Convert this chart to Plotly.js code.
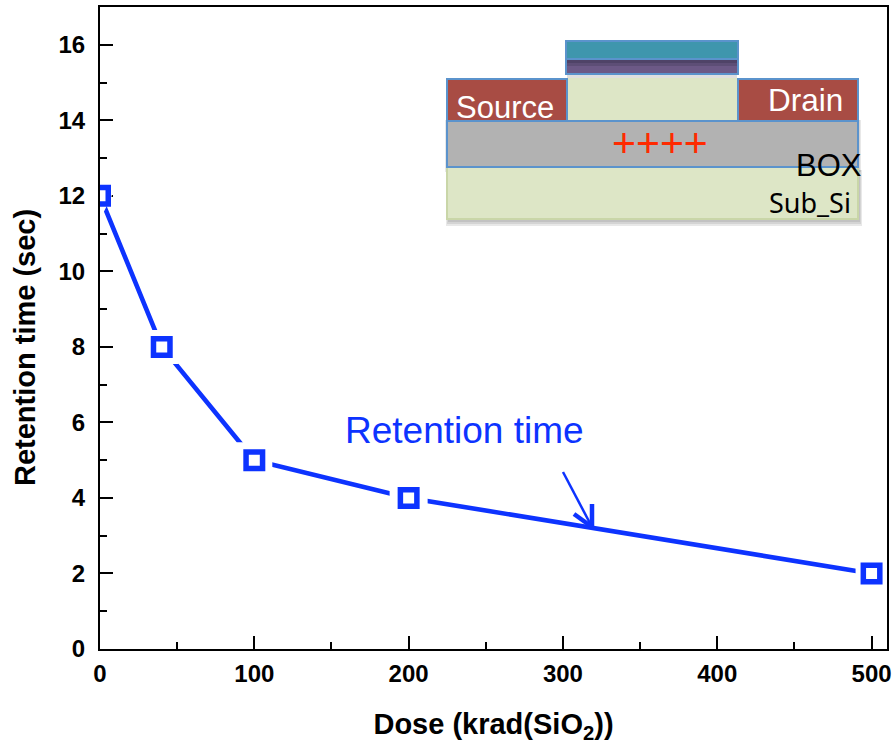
<!DOCTYPE html>
<html><head><meta charset="utf-8">
<script src="https://cdn.plot.ly/plotly-3.0.1.min.js"></script>
<style>html,body{margin:0;padding:0;background:#fff}#c{width:893px;height:744px}</style>
</head><body><div id="c"></div>
<script>
// Chart data
const doseValues = [0, 40, 100, 200, 500];
const retentionValues = [12, 8, 5, 4, 2];
const xTicks = [0, 100, 200, 300, 400, 500];
const yTicks = [0, 2, 4, 6, 8, 10, 12, 14, 16];
const seriesBlue = '#0d33ff';

// Plot frame in page pixels
const W = 893, H = 744;
const L = 100, R = 887, T = 7, B = 649;
const px = v => (v - L) / (R - L);
const py = v => (B - v) / (B - T);

function box(x0, y0, x1, y1, fill, stroke, sw) {
  return {type: 'rect', xref: 'paper', yref: 'paper', x0: px(x0), x1: px(x1), y0: py(y0), y1: py(y1),
    fillcolor: fill, line: {color: stroke || 'rgba(0,0,0,0)', width: sw === undefined ? 2 : sw}, layer: 'above'};
}
function seg(x0, y0, x1, y1, color, w) {
  return {type: 'line', xref: 'paper', yref: 'paper', x0: px(x0), x1: px(x1), y0: py(y0), y1: py(y1),
    line: {color: color, width: w}, layer: 'above'};
}
function label(text, x, y, size, color, family, extra) {
  return Object.assign({text: text, xref: 'paper', yref: 'paper', x: px(x), y: py(y), showarrow: false,
    xanchor: 'center', yanchor: 'middle', font: {size: size, color: color, family: family || 'Liberation Sans'}}, extra || {});
}

const edge = '#5b93cc';
const shadow = 'rgba(80,80,80,0.13)';
const shapes = [
  // soft drop shadows
  box(446, 170, 862, 226, shadow, null, 0),
  box(447, 170, 861, 224, shadow, null, 0),
  box(448, 170, 860, 222, shadow, null, 0),
  box(445, 120, 861, 172, shadow, null, 0),
  box(446, 120, 860, 170, shadow, null, 0),
  box(567, 75, 737, 79, 'rgba(80,80,80,0.18)', null, 0),
  // inset device layers
  box(447, 167, 858, 219, '#dde6c6', '#c9d6a8', 2),
  box(567, 78, 737, 121, '#dde6c6', null, 0),
  box(447, 121, 858, 167, '#b2b2b2', edge, 2),
  box(447, 79, 567, 121, '#a84c44', edge, 2),
  box(738, 79, 858, 121, '#a84c44', edge, 2),
  box(566, 59, 738, 74, '#6c5986', edge, 2),
  box(567, 60, 737, 63, '#4f4367', null, 0),
  box(567, 63, 737, 66, '#5d4e76', null, 0),
  box(566, 41, 738, 59, '#3f96ad', edge, 2),
  // arrow pointing at the curve
  seg(563, 472, 592, 527, seriesBlue, 2.5),
  seg(592, 504, 592, 527, seriesBlue, 4.5),
  seg(574, 514, 592, 527, seriesBlue, 4.5)
];

const titleFontFamily = 'Liberation Sans';
const annotations = [
  label('Source', 505, 107, 31, '#ffffff'),
  label('Drain', 805, 100, 31.5, '#ffffff'),
  label('++++', 660, 143, 41, '#ff2a00'),
  label('BOX', 829, 165, 31, '#000000'),
  label('Sub_Si', 810, 202, 27, '#000000', 'Noto Sans'),
  label('Retention time', 464, 430, 37, seriesBlue),
  Object.assign(label('Retention time (sec)', 25, 348, 29, '#000000', titleFontFamily, {textangle: -90}))
];
annotations[annotations.length - 1].font.weight = 'bold';

const traces = [
  {x: doseValues, y: retentionValues, mode: 'lines', line: {color: seriesBlue, width: 4.6}, hoverinfo: 'skip', showlegend: false},
  {x: doseValues, y: retentionValues, mode: 'markers', hoverinfo: 'skip', showlegend: false,
   marker: {symbol: ['diamond-tall', 'square', 'square', 'square', 'square'], size: [34, 34, 36, 38, 32], color: '#ffffff', opacity: 1, line: {width: 0}}},
  {x: doseValues, y: retentionValues, mode: 'markers', hoverinfo: 'skip', showlegend: false,
   marker: {symbol: 'square', size: 16.5, color: '#ffffff', line: {color: seriesBlue, width: 5.5}}}
];

const tickFont = {family: 'Liberation Sans', size: 24, color: '#000000', weight: 'bold'};
const titleFont = {family: titleFontFamily, size: 29, color: '#000000', weight: 'bold'};
const layout = {
  width: W, height: H, paper_bgcolor: '#fff', plot_bgcolor: '#fff', showlegend: false,
  margin: {l: L, r: W - R, t: T, b: H - B, pad: 0},
  xaxis: {range: [0, 510], tickmode: 'array', tickvals: xTicks, ticks: 'inside', ticklen: 13, tickwidth: 2, tickcolor: '#000',
    minor: {dtick: 50, tick0: 0, ticks: 'inside', ticklen: 7, tickwidth: 2, tickcolor: '#000', showgrid: false},
    showline: true, linecolor: '#000', linewidth: 2, mirror: true, showgrid: false, zeroline: false, layer: 'below traces',
    tickfont: tickFont, ticklabelstandoff: 2, title: {text: 'Dose (krad(SiO<sub>2</sub>))', font: titleFont, standoff: 28}},
  yaxis: {range: [0, 17], tickmode: 'array', tickvals: yTicks, ticks: 'inside', ticklen: 13, tickwidth: 2, tickcolor: '#000',
    minor: {dtick: 1, tick0: 0, ticks: 'inside', ticklen: 7, tickwidth: 2, tickcolor: '#000', showgrid: false},
    showline: true, linecolor: '#000', linewidth: 2, mirror: true, showgrid: false, zeroline: false, layer: 'below traces',
    tickfont: tickFont, ticklabelstandoff: 8},
  shapes: shapes, annotations: annotations
};
Plotly.newPlot('c', traces, layout, {displayModeBar: false, staticPlot: true});
</script></body></html>
